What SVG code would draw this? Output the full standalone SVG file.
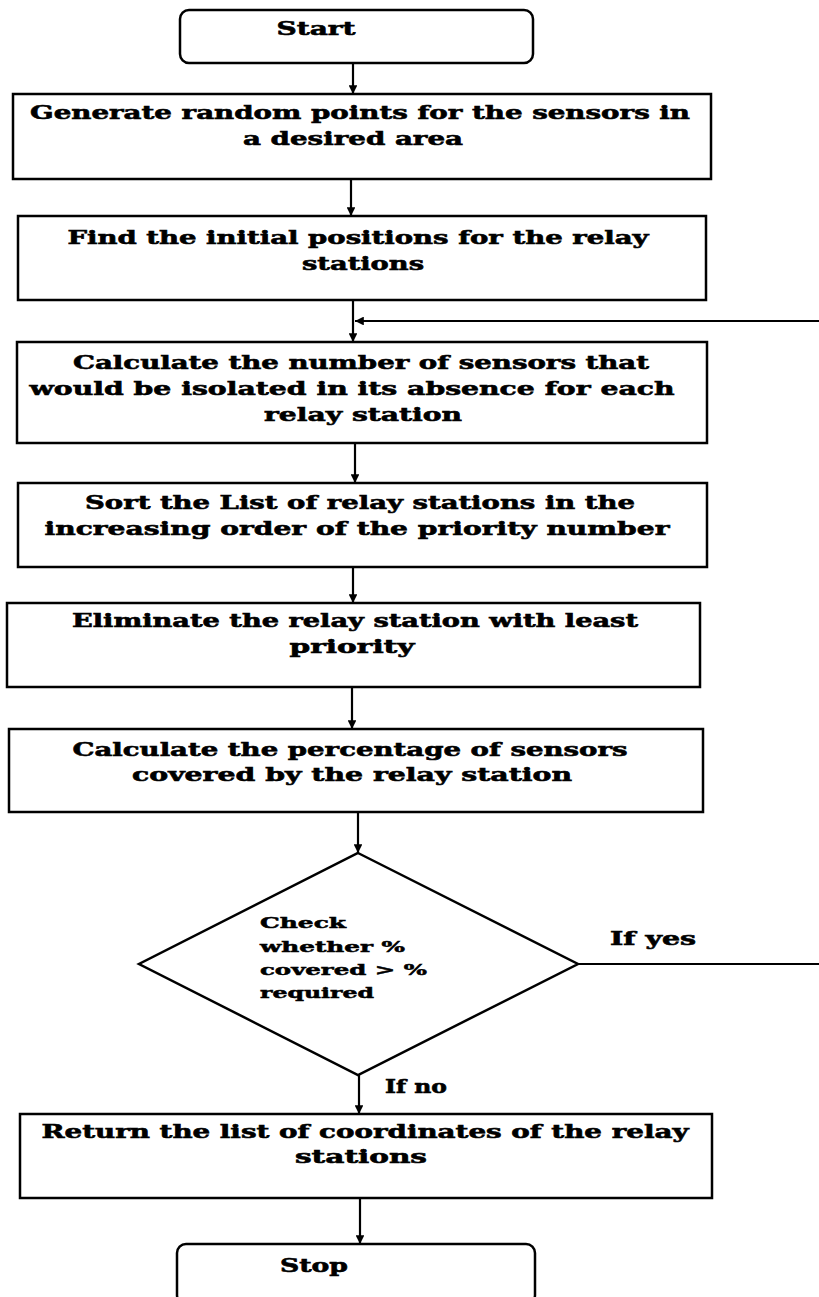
<svg xmlns="http://www.w3.org/2000/svg" width="819" height="1297" viewBox="0 0 819 1297">
<style>
.box{fill:#fff;stroke:#000;stroke-width:2.5}
.t{font-family:"DejaVu Serif","Liberation Serif",serif;font-weight:bold;font-size:19px;fill:#000;stroke:#000;stroke-width:0.6}
.m{text-anchor:middle}
.s{font-size:15px;stroke-width:0.5}
.c{fill:none;stroke:#000;stroke-width:2.2}
</style>
<defs>
<marker id="ah" viewBox="0 0 10 10" refX="10" refY="5" markerWidth="4" markerHeight="4" orient="auto" markerUnits="strokeWidth">
<path d="M0,0 L10,5 L0,10 z" fill="#000"/>
</marker>
</defs>
<rect width="819" height="1297" fill="#fff"/>
<g id="connectors">
<path class="c" d="M353,63 V94" marker-end="url(#ah)"/>
<path class="c" d="M351,179 V216" marker-end="url(#ah)"/>
<path class="c" d="M353,300 V342" marker-end="url(#ah)"/>
<path class="c" d="M355,443 V483" marker-end="url(#ah)"/>
<path class="c" d="M353,567 V603" marker-end="url(#ah)"/>
<path class="c" d="M352,687 V729" marker-end="url(#ah)"/>
<path class="c" d="M358,812 V853" marker-end="url(#ah)"/>
<path class="c" d="M359,1075 V1114" marker-end="url(#ah)"/>
<path class="c" d="M360,1198 V1244" marker-end="url(#ah)"/>
<path class="c" d="M578,964 H840 V321 H355" marker-end="url(#ah)"/>
</g>
<g id="start">
<rect class="box" x="180" y="10" width="353" height="53" rx="9"/>
<text class="t m" x="316" y="35" textLength="79" lengthAdjust="spacingAndGlyphs">Start</text>
</g>
<g id="generate">
<rect class="box" x="13" y="94" width="698" height="85"/>
<text class="t m" x="360" y="119" textLength="660" lengthAdjust="spacingAndGlyphs">Generate random points for the sensors in</text>
<text class="t m" x="353" y="145" textLength="220" lengthAdjust="spacingAndGlyphs">a desired area</text>
</g>
<g id="find">
<rect class="box" x="18" y="216" width="688" height="84"/>
<text class="t m" x="358" y="244" textLength="581" lengthAdjust="spacingAndGlyphs">Find the initial positions for the relay</text>
<text class="t m" x="363" y="270" textLength="122" lengthAdjust="spacingAndGlyphs">stations</text>
</g>
<g id="calcnum">
<rect class="box" x="17" y="342" width="690" height="101"/>
<text class="t m" x="361" y="369" textLength="576" lengthAdjust="spacingAndGlyphs">Calculate the number of sensors that</text>
<text class="t m" x="352" y="395" textLength="645" lengthAdjust="spacingAndGlyphs">would be isolated in its absence for each</text>
<text class="t m" x="363" y="421" textLength="198" lengthAdjust="spacingAndGlyphs">relay station</text>
</g>
<g id="sort">
<rect class="box" x="18" y="483" width="689" height="84"/>
<text class="t m" x="360" y="509" textLength="550" lengthAdjust="spacingAndGlyphs">Sort the List of relay stations in the</text>
<text class="t m" x="357" y="535" textLength="625" lengthAdjust="spacingAndGlyphs">increasing order of the priority number</text>
</g>
<g id="eliminate">
<rect class="box" x="7" y="603" width="693" height="84"/>
<text class="t m" x="355" y="627" textLength="566" lengthAdjust="spacingAndGlyphs">Eliminate the relay station with least</text>
<text class="t m" x="352" y="653" textLength="125" lengthAdjust="spacingAndGlyphs">priority</text>
</g>
<g id="calcpct">
<rect class="box" x="9" y="729" width="694" height="83"/>
<text class="t m" x="350" y="756" textLength="555" lengthAdjust="spacingAndGlyphs">Calculate the percentage of sensors</text>
<text class="t m" x="352" y="781" textLength="440" lengthAdjust="spacingAndGlyphs">covered by the relay station</text>
</g>
<g id="check">
<polygon class="box" points="358,853 578,964 358,1075 139,964"/>
<text class="t s" x="260" y="928" textLength="86" lengthAdjust="spacingAndGlyphs">Check</text>
<text class="t s" x="260" y="952" textLength="145" lengthAdjust="spacingAndGlyphs">whether %</text>
<text class="t s" x="260" y="975" textLength="167" lengthAdjust="spacingAndGlyphs">covered &gt; %</text>
<text class="t s" x="260" y="998" textLength="114" lengthAdjust="spacingAndGlyphs">required</text>
</g>
<text class="t" x="610" y="945" textLength="86" lengthAdjust="spacingAndGlyphs">If yes</text>
<text class="t" x="385" y="1093" textLength="62" lengthAdjust="spacingAndGlyphs">If no</text>
<g id="return">
<rect class="box" x="20" y="1114" width="692" height="84"/>
<text class="t m" x="365" y="1138" textLength="647" lengthAdjust="spacingAndGlyphs">Return the list of coordinates of the relay</text>
<text class="t m" x="361" y="1163" textLength="132" lengthAdjust="spacingAndGlyphs">stations</text>
</g>
<g id="stop">
<rect class="box" x="177" y="1244" width="358" height="60" rx="9"/>
<text class="t m" x="314" y="1272" textLength="68" lengthAdjust="spacingAndGlyphs">Stop</text>
</g>
</svg>
